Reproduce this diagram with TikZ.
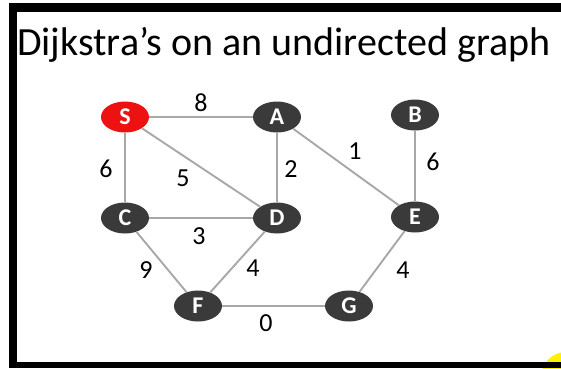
\documentclass[tikz,border=0pt]{standalone}
\usepackage{fontspec}
\setmainfont{Carlito}
\usetikzlibrary{shapes.geometric}
\definecolor{nodegray}{HTML}{3A3A3A}
\definecolor{sred}{HTML}{EE1111}
\definecolor{edgegray}{HTML}{A8A8A8}
\tikzset{
  vtx/.style={ellipse, fill=nodegray, minimum width=48pt, minimum height=31pt, inner sep=0pt,
    text=white, font=\fontsize{24}{24}\selectfont\bfseries},
  src/.style={vtx, fill=sred},
  edge/.style={draw=edgegray, line width=1.9pt},
  wlabel/.style={font=\fontsize{26}{26}\selectfont, text=black, inner sep=0pt}
}
\begin{document}
\begin{tikzpicture}[x=1pt,y=-1pt]
\useasboundingbox (0,0) rectangle (561,368);
\fill[white] (0,0) rectangle (561,368);
\fill[yellow] (566,377) circle (25);
\fill[black] (9,3) rectangle (561,12);
\fill[black] (9,3) rectangle (17,368);
\fill[black] (9,362) rectangle (561,368);
\node[anchor=base west, inner sep=0pt, font=\fontsize{40}{40}\selectfont] (title) at (17,55) {Dijkstra’s on an undirected graph};
% nodes
\node[src] (S) at (125,117) {S};
\node[vtx] (A) at (277,117) {A};
\node[vtx] (B) at (415,115) {B};
\node[vtx] (C) at (125,218) {C};
\node[vtx] (D) at (277,218) {D};
\node[vtx] (E) at (415,217) {E};
\node[vtx] (F) at (198,306) {F};
\node[vtx] (G) at (349,306) {G};
% edges
\path[edge] (S) -- (A);
\path[edge] (S) -- (C);
\path[edge] (S) -- (D);
\path[edge] (A) -- (D);
\path[edge] (A) -- (E);
\path[edge] (B) -- (E);
\path[edge] (C) -- (D);
\path[edge] (C) -- (F);
\path[edge] (D) -- (F);
\path[edge] (E) -- (G);
\path[edge] (F) -- (G);
% labels
\node[wlabel] (l8) at (201,103) {8};
\node[wlabel] (l6a) at (106,169) {6};
\node[wlabel] (l5) at (183,178) {5};
\node[wlabel] (l2) at (291,169) {2};
\node[wlabel] (l1) at (355,151) {1};
\node[wlabel] (l6b) at (433,162) {6};
\node[wlabel] (l3) at (199,236) {3};
\node[wlabel] (l9) at (146,270) {9};
\node[wlabel] (l4a) at (253,268) {4};
\node[wlabel] (l4b) at (403,270) {4};
\node[wlabel] (l0) at (266,323) {0};
\end{tikzpicture}
\end{document}
